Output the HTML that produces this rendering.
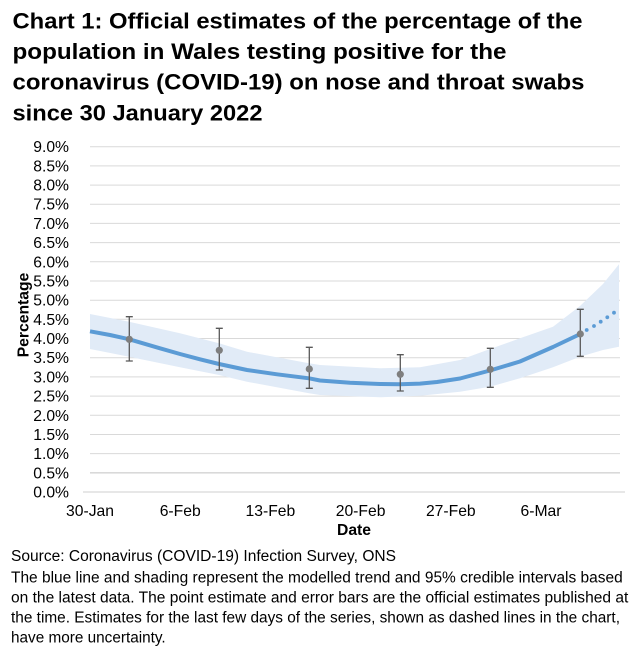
<!DOCTYPE html>
<html><head><meta charset="utf-8"><style>
html,body{margin:0;padding:0;background:#fff;}
svg{display:block;}
text{font-family:"Liberation Sans",Arial,sans-serif;}
</style></head><body>
<svg width="642" height="661" viewBox="0 0 642 661" xmlns="http://www.w3.org/2000/svg">
<rect width="642" height="661" fill="#fff"/>
<g font-weight="bold" font-size="22" fill="#000">
<text x="12.5" y="28.3" textLength="570" lengthAdjust="spacingAndGlyphs">Chart 1: Official estimates of the percentage of the</text>
<text x="12.5" y="59" textLength="494" lengthAdjust="spacingAndGlyphs">population in Wales testing positive for the</text>
<text x="12.5" y="89.7" textLength="572" lengthAdjust="spacingAndGlyphs">coronavirus (COVID-19) on nose and throat swabs</text>
<text x="12.5" y="120.3" textLength="250" lengthAdjust="spacingAndGlyphs">since 30 January 2022</text>
</g>
<g stroke="#d9d9d9" stroke-width="1">
<line x1="90" x2="620" y1="146.7" y2="146.7"/>
<line x1="90" x2="620" y1="165.9" y2="165.9"/>
<line x1="90" x2="620" y1="185.1" y2="185.1"/>
<line x1="90" x2="620" y1="204.2" y2="204.2"/>
<line x1="90" x2="620" y1="223.4" y2="223.4"/>
<line x1="90" x2="620" y1="242.6" y2="242.6"/>
<line x1="90" x2="620" y1="261.8" y2="261.8"/>
<line x1="90" x2="620" y1="281.0" y2="281.0"/>
<line x1="90" x2="620" y1="300.2" y2="300.2"/>
<line x1="90" x2="620" y1="319.3" y2="319.3"/>
<line x1="90" x2="620" y1="338.5" y2="338.5"/>
<line x1="90" x2="620" y1="357.7" y2="357.7"/>
<line x1="90" x2="620" y1="376.9" y2="376.9"/>
<line x1="90" x2="620" y1="396.1" y2="396.1"/>
<line x1="90" x2="620" y1="415.3" y2="415.3"/>
<line x1="90" x2="620" y1="434.5" y2="434.5"/>
<line x1="90" x2="620" y1="453.6" y2="453.6"/>
<line x1="90" x2="620" y1="472.8" y2="472.8" stroke-width="1.6"/>
<line x1="83" x2="625" y1="492" y2="492" stroke="#cfcfcf"/>
</g>
<g font-size="15.7" fill="#000" text-anchor="end">
<text x="69" y="152.2">9.0%</text>
<text x="69" y="171.4">8.5%</text>
<text x="69" y="190.6">8.0%</text>
<text x="69" y="209.7">7.5%</text>
<text x="69" y="228.9">7.0%</text>
<text x="69" y="248.1">6.5%</text>
<text x="69" y="267.3">6.0%</text>
<text x="69" y="286.5">5.5%</text>
<text x="69" y="305.7">5.0%</text>
<text x="69" y="324.8">4.5%</text>
<text x="69" y="344.0">4.0%</text>
<text x="69" y="363.2">3.5%</text>
<text x="69" y="382.4">3.0%</text>
<text x="69" y="401.6">2.5%</text>
<text x="69" y="420.8">2.0%</text>
<text x="69" y="440.0">1.5%</text>
<text x="69" y="459.1">1.0%</text>
<text x="69" y="478.3">0.5%</text>
<text x="69" y="497.5">0.0%</text>
</g>
<g font-size="15.7" fill="#000" text-anchor="middle">
<text x="90" y="516">30-Jan</text>
<text x="180.2" y="516">6-Feb</text>
<text x="270.4" y="516">13-Feb</text>
<text x="360.6" y="516">20-Feb</text>
<text x="450.8" y="516">27-Feb</text>
<text x="541" y="516">6-Mar</text>
<text x="354" y="535" font-weight="bold">Date</text>
<text transform="translate(28.5,315) rotate(-90)" font-weight="bold">Percentage</text>
</g>
<polygon fill="#e1ebf7" points="90,314 129,321.7 180,333.3 219,343.3 247,351.7 309,363.3 320,365 380,368.3 420,367.3 460,360 490,349 520,338.3 553,326.7 580,306 603,284 619,264.3 619,346.7 603,350 580,356.7 553,367.3 520,378.3 490,386.7 460,391.7 420,395.7 380,397.3 320,395 309,393.3 247,381.7 219,375 180,367.3 129,356.7 90,349"/>
<polyline fill="none" stroke="#5b9bd5" stroke-width="4" stroke-linejoin="round" stroke-linecap="butt" points="90,331.3 110,335 129.3,339.3 160,348.3 180,354 200,359.3 219,364 247,370 277,374.3 309,378.3 320,380.5 350,382.8 380,384 400,384.2 420,383.6 437,382 460,378.5 490,370.5 520,361.5 553,347 580.3,334"/>
<g fill="#5b9bd5">
<circle cx="586.7" cy="330" r="1.9"/>
<circle cx="594" cy="326" r="1.9"/>
<circle cx="600.7" cy="321.7" r="1.9"/>
<circle cx="607.3" cy="317.3" r="1.9"/>
<circle cx="614" cy="312.7" r="1.9"/>
</g>
<g stroke="#595959" stroke-width="1.3" fill="none">
<path d="M129.3 316.7V361M125.8 316.7H132.8M125.8 361H132.8"/>
<path d="M219.3 328.3V370M215.8 328.3H222.8M215.8 370H222.8"/>
<path d="M309.3 347.3V388.3M305.8 347.3H312.8M305.8 388.3H312.8"/>
<path d="M400.3 354.7V391M396.8 354.7H403.8M396.8 391H403.8"/>
<path d="M490.3 348.3V387.3M486.8 348.3H493.8M486.8 387.3H493.8"/>
<path d="M580.3 309.3V356.3M576.8 309.3H583.8M576.8 356.3H583.8"/>
</g>
<g fill="#7f7f7f">
<circle cx="129.3" cy="339.3" r="3.6"/>
<circle cx="219.3" cy="350.3" r="3.6"/>
<circle cx="309.3" cy="369" r="3.6"/>
<circle cx="400.3" cy="374.3" r="3.6"/>
<circle cx="490.3" cy="369.3" r="3.6"/>
<circle cx="580.3" cy="334" r="3.6"/>
</g>
<g font-size="15.3" fill="#000">
<text x="11" y="561" textLength="385" lengthAdjust="spacingAndGlyphs">Source: Coronavirus (COVID-19) Infection Survey, ONS</text>
<text x="11" y="582.3" textLength="611.7" lengthAdjust="spacingAndGlyphs">The blue line and shading represent the modelled trend and 95% credible intervals based</text>
<text x="11" y="602.3" textLength="617.3" lengthAdjust="spacingAndGlyphs">on the latest data. The point estimate and error bars are the official estimates published at</text>
<text x="11" y="622.3" textLength="609" lengthAdjust="spacingAndGlyphs">the time. Estimates for the last few days of the series, shown as dashed lines in the chart,</text>
<text x="11" y="642.3" textLength="154.7" lengthAdjust="spacingAndGlyphs">have more uncertainty.</text>
</g>
</svg>
</body></html>
